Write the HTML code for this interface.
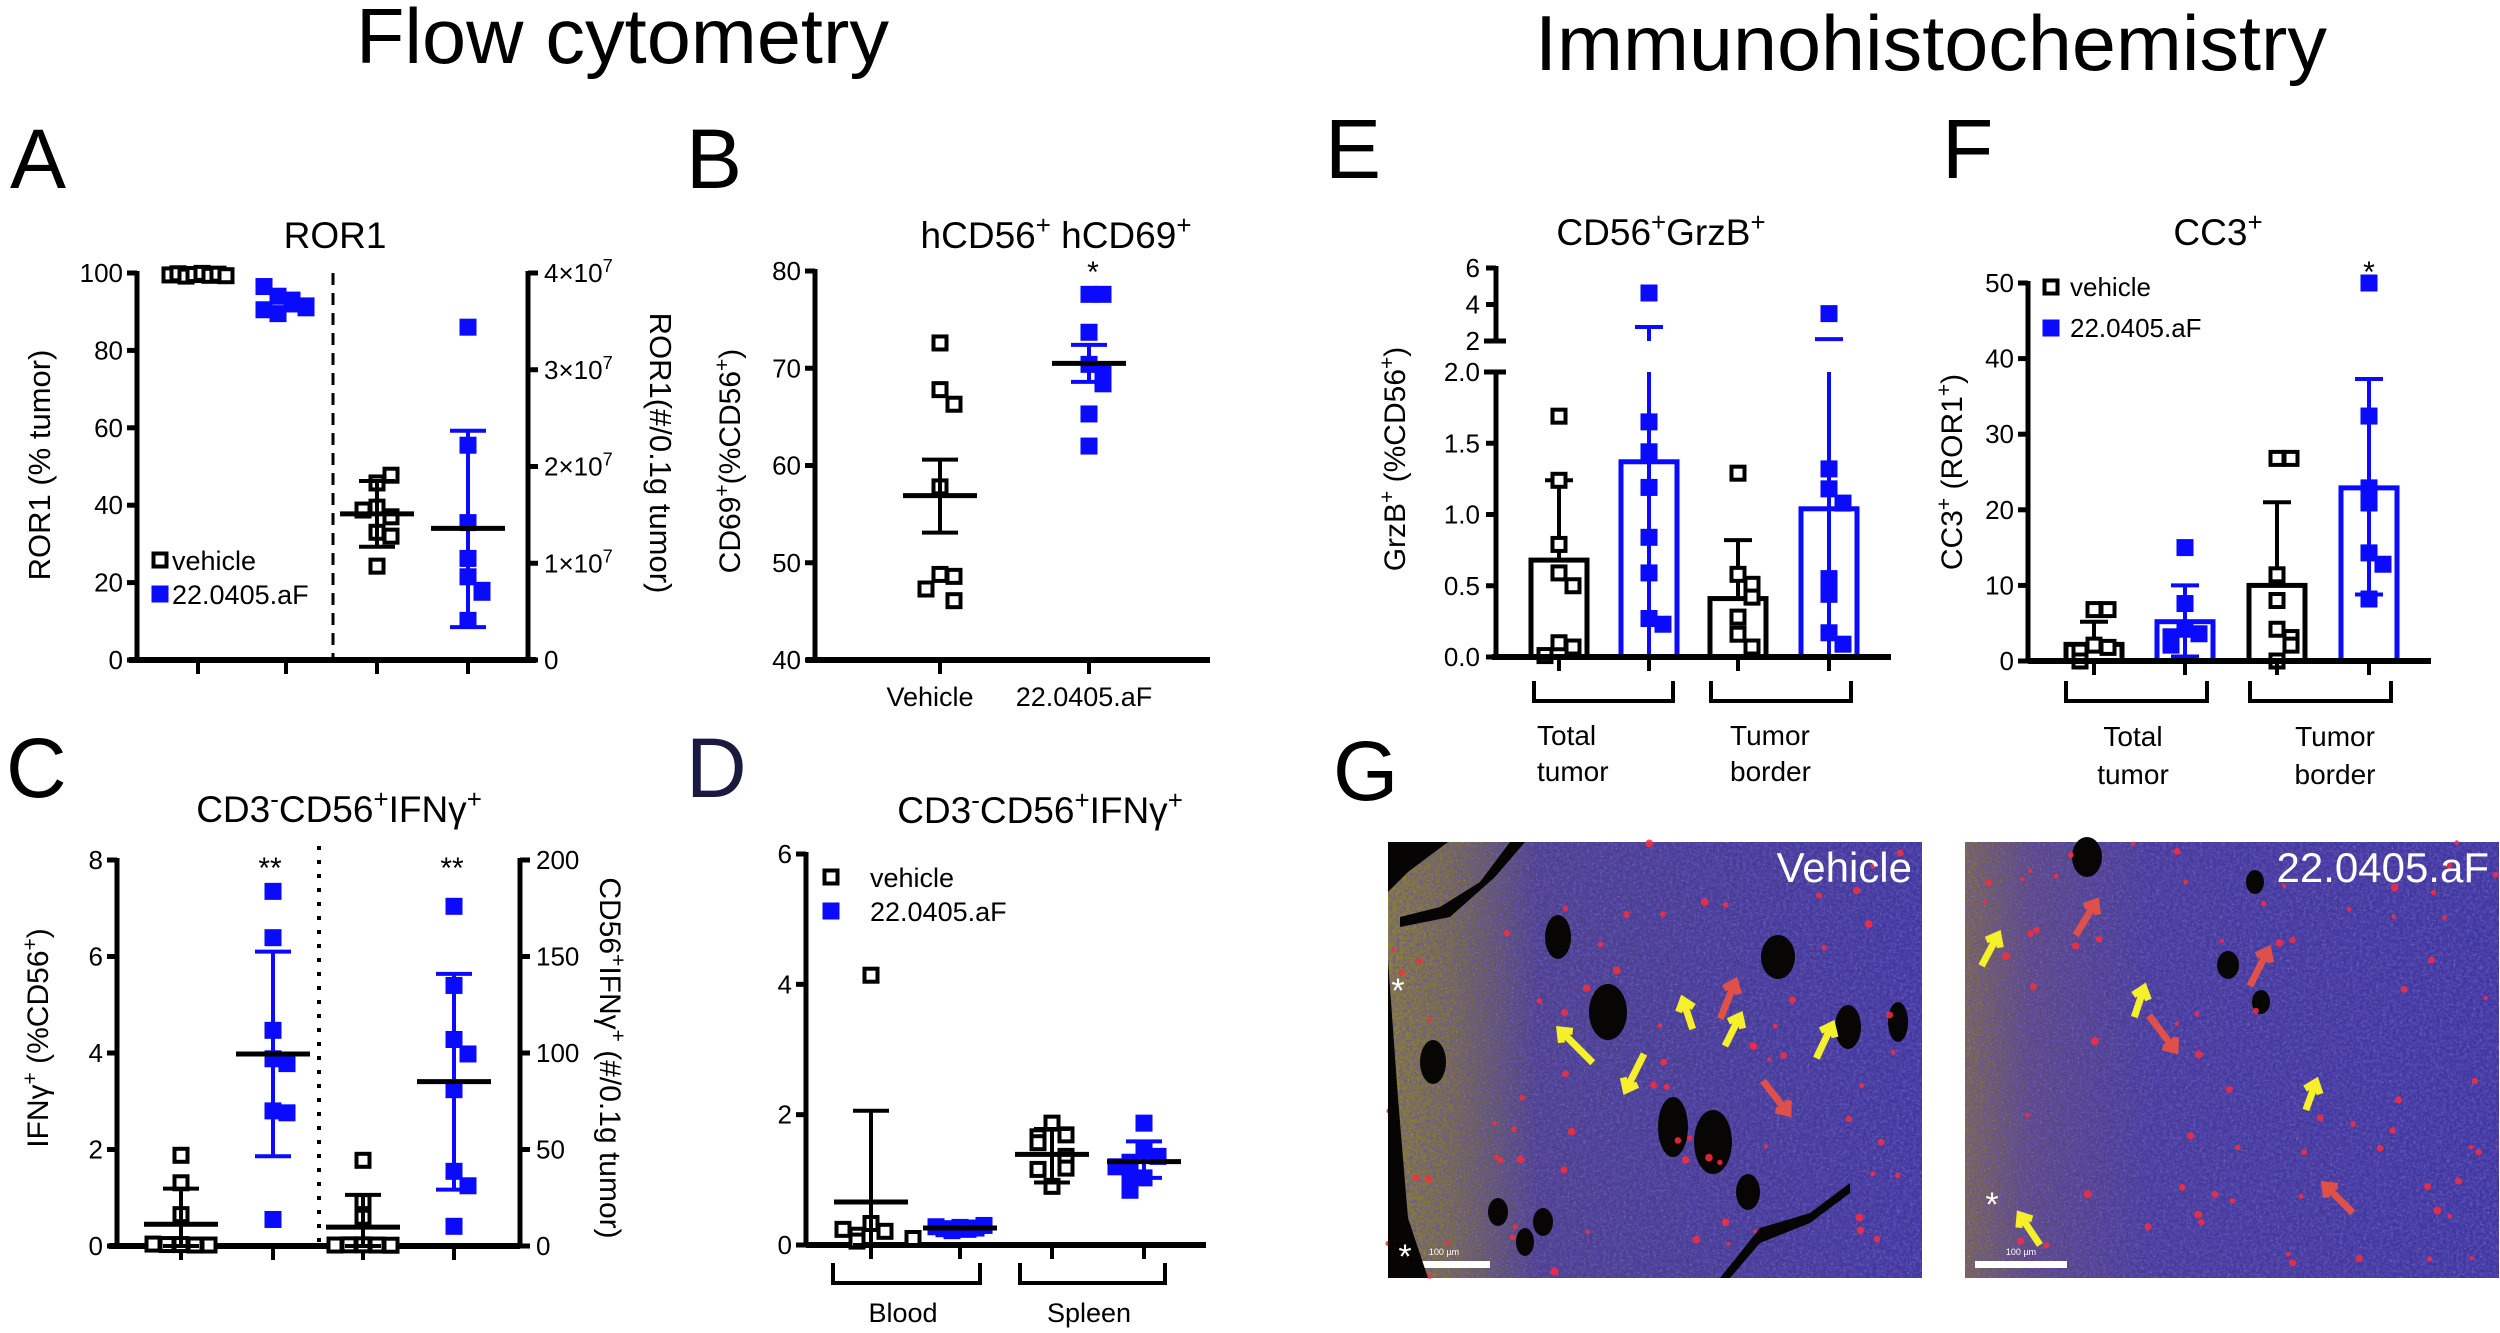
<!DOCTYPE html>
<html><head><meta charset="utf-8">
<style>
html,body{margin:0;padding:0;background:#fff;}
svg{display:block;font-family:"Liberation Sans",Arial,sans-serif;}
</style></head>
<body>
<svg id="fig" width="2500" height="1333" viewBox="0 0 2500 1333" xmlns="http://www.w3.org/2000/svg">
<defs>
<filter id="cells" x="0" y="0" width="100%" height="100%">
<feTurbulence type="fractalNoise" baseFrequency="0.3" numOctaves="2" seed="4" result="n"/>
<feColorMatrix type="matrix" values="0 0 0 0 0.12  0 0 0 0 0.08  0 0 0 0 0.5  0 0 0 2.2 -0.8" in="n"/>
</filter>
<filter id="speck" x="0" y="0" width="100%" height="100%">
<feTurbulence type="fractalNoise" baseFrequency="0.5" numOctaves="1" seed="9" result="n"/>
<feColorMatrix type="matrix" values="0 0 0 0 0.85  0 0 0 0 0.5  0 0 0 0 0.2  0 0 0 3 -1.75" in="n"/>
</filter>
<linearGradient id="gl" x1="0" x2="1" y1="0" y2="0">
<stop offset="0" stop-color="#8a8030"/><stop offset="0.12" stop-color="#7a6e42"/><stop offset="0.28" stop-color="#4d418c"/><stop offset="1" stop-color="#3f38a0"/>
</linearGradient>
<linearGradient id="gr" x1="0" x2="1" y1="0" y2="0">
<stop offset="0" stop-color="#7e6a48"/><stop offset="0.12" stop-color="#5e4a80"/><stop offset="0.35" stop-color="#463c9c"/><stop offset="1" stop-color="#3e37a2"/>
</linearGradient>
</defs>
<text x="356" y="63" font-size="78" textLength="533" lengthAdjust="spacingAndGlyphs">Flow cytometry</text>
<text x="1535" y="70" font-size="78" textLength="792" lengthAdjust="spacingAndGlyphs">Immunohistochemistry</text>
<g font-size="84">
<text x="10" y="188">A</text>
<text x="686" y="188">B</text>
<text x="6" y="797">C</text>
<text x="686" y="797" fill="#1a1a40">D</text>
<text x="1325" y="178">E</text>
<text x="1942" y="178">F</text>
<text x="1333" y="800">G</text>
</g>
<g id="charts"></g>
<g id="histo"></g>
</svg>
<script>
// ---------- DATA ----------
const aCats = ["vehicle %", "22.0405.aF %", "vehicle #", "22.0405.aF #"];
const aVehPct = [99.5, 99.8, 99.2, 99.6, 99.9, 99.4, 99.7, 99.3];
const aTrtPct = [96.5, 94, 92, 91.5, 90.5, 89.5, 93, 91];
const aVehCount = [1.83, 1.91, 1.58, 1.48, 1.32, 1.28, 0.97, 1.55];
const aVehCountMean = 1.51, aVehCountSD = [1.17, 1.85];
const aTrtCount = [3.44, 2.22, 1.42, 1.05, 0.86, 0.72, 0.70, 0.41];
const aTrtCountMean = 1.36, aTrtCountSD = [0.34, 2.37];
const aLeftTicks = [0, 20, 40, 60, 80, 100];
const aRightTicks = [0, 1, 2, 3, 4];
const bCats = ["Vehicle", "22.0405.aF"];
const bVeh = [72.6, 67.8, 66.3, 57.8, 48.8, 48.6, 47.3, 46.1];
const bVehMean = 56.9, bVehSEM = [53.1, 60.6];
const bTrt = [77.6, 77.6, 73.7, 70.4, 69.6, 68.4, 65.3, 62.0];
const bTrtMean = 70.5, bTrtSEM = [68.6, 72.4];
const bTicks = [40, 50, 60, 70, 80];
const cVehPct = [1.88, 1.31, 0.65, 0.03, 0.02, 0.03, 0.02, 0.04];
const cVehPctMean = 0.45, cVehPctSD = [0, 1.19];
const cTrtPct = [7.35, 6.39, 4.47, 3.88, 3.78, 2.80, 2.76, 0.55];
const cTrtPctMean = 3.98, cTrtPctSD = [1.86, 6.1];
const cVehCnt = [44.4, 23, 14.9, 0.6, 0.5, 0.6, 0.4, 0.5];
const cVehCntMean = 9.8, cVehCntSD = [0, 26.5];
const cTrtCnt = [176, 135, 107, 99.5, 81, 38.7, 31.2, 10.2];
const cTrtCntMean = 85.2, cTrtCntSD = [29.2, 141];
const cLeftTicks = [0, 2, 4, 6, 8];
const cRightTicks = [0, 50, 100, 150, 200];
const dVehBlood = [4.14, 0.33, 0.21, 0.15, 0.06, 0.24, 0.1];
const dVehBloodMean = 0.66, dVehBloodSD = [0, 2.06];
const dTrtBlood = [0.28, 0.25, 0.22, 0.27, 0.24, 0.26, 0.3];
const dTrtBloodMean = 0.26, dTrtBloodSD = [0.2, 0.32];
const dVehSpleen = [1.87, 1.69, 1.66, 1.57, 1.36, 1.18, 1.16, 0.9];
const dVehSpleenMean = 1.39, dVehSpleenSD = [0.96, 1.78];
const dTrtSpleen = [1.87, 1.45, 1.36, 1.27, 1.03, 1.05, 0.84, 1.2];
const dTrtSpleenMean = 1.28, dTrtSpleenSD = [1.03, 1.59];
const dTicks = [0, 2, 4, 6];
const eGroups = ["Total tumor", "Tumor border"];
const eVehMeans = [0.68, 0.41];
const eTrtMeans = [1.37, 1.04];
const eVehErr = [1.24, 0.82];
const eTrtErr = [2.77, 2.1];
const eVehPts = [[1.69, 1.24, 0.79, 0.59, 0.5, 0.1, 0.07, 0.01], [1.29, 0.58, 0.51, 0.42, 0.28, 0.16, 0.07]];
const eTrtPts = [[4.63, 1.65, 1.44, 1.19, 0.84, 0.59, 0.27, 0.23], [3.5, 1.32, 1.18, 1.08, 0.55, 0.44, 0.17, 0.09]];
const eLowTicks = ["0.0", "0.5", "1.0", "1.5", "2.0"];
const eHighTicks = [2, 4, 6];
const fVehMeans = [2.2, 10.0];
const fTrtMeans = [5.2, 22.9];
const fVehErr = [5.2, 21.0];
const fTrtErr = [10.0, 37.3];
const fTrtErrLow = [0.6, 8.8];
const fVehPts = [[6.8, 6.8, 2.1, 1.8, 1.3, 0], [26.8, 26.8, 11.4, 8, 4.2, 3.1, 2.1, 0]];
const fTrtPts = [[15, 7.6, 4.2, 3.6, 3.2, 2.1], [50, 32.4, 22.9, 20.9, 14.3, 12.8, 8.2]];
const fTicks = [0, 10, 20, 30, 40, 50];

// ---------- DRAW HELPERS ----------
const NS = "http://www.w3.org/2000/svg";
const root = document.getElementById("charts");
const BLUE = "#0a0aff";
function el(tag, attrs, parent, text) {
  const e = document.createElementNS(NS, tag);
  for (const k in attrs) e.setAttribute(k, attrs[k]);
  if (text !== undefined) e.textContent = text;
  (parent || root).appendChild(e);
  return e;
}
function lin(d0, d1, r0, r1) { return v => r0 + (v - d0) * (r1 - r0) / (d1 - d0); }
function line(g, x1, y1, x2, y2, col, w, name) {
  const l = el("line", {x1, y1, x2, y2, stroke: col || "#000", "stroke-width": w || 5}, g);
  
  
  return l;
}
function txt(g, x, y, s, size, anchor, name, extra) {
  const t = el("text", Object.assign({x, y, "font-size": size, "text-anchor": anchor || "middle"}, extra || {}), g, s);
  
  
  return t;
}
function marker(g, cx, cy, filled, name) {
  const s = 17;
  const r = el("rect", filled ?
    {x: cx - s / 2, y: cy - s / 2, width: s, height: s, fill: BLUE} :
    {x: cx - s / 2 + 2, y: cy - s / 2 + 2, width: s - 4, height: s - 4, fill: "#fff", stroke: "#000", "stroke-width": 4}, g);
  
  
  return r;
}
function scatter(g, cx, vals, ys, filled, name) {
  const placed = [];
  vals.forEach(v => {
    const y = ys(v);
    let n = placed.filter(p => Math.abs(p - y) < 15).length;
    const off = n === 0 ? 0 : (n % 2 ? 1 : -1) * Math.ceil(n / 2) * 14;
    placed.push(y);
    marker(g, cx + off, y, filled, name);
  });
}
function meanErr(g, cx, mean, lo, hi, ys, col, name) {
  const c = col || "#000";
  line(g, cx, ys(lo), cx, ys(hi), c, 4, name + '-error-bar');
  line(g, cx - 18, ys(hi), cx + 18, ys(hi), c, 4, name + '-error-cap');
  line(g, cx - 18, ys(lo), cx + 18, ys(lo), c, 4, name + '-error-cap');
  line(g, cx - 37, ys(mean), cx + 37, ys(mean), "#000", 5, name + '-mean-line');
}
function yAxis(g, x, ys, ticks, labels, side, size) {
  const y0 = ys(ticks[0]), y1 = ys(ticks[ticks.length - 1]);
  line(g, x, Math.max(y0, y1) + 2, x, Math.min(y0, y1) - 2, "#000", 5, 'y-axis-line');
  ticks.forEach((t, i) => {
    const y = ys(t);
    if (side === "left") {
      line(g, x - 10, y, x, y, "#000", 5, 'y-tick');
      txt(g, x - 14, y + 9, labels ? labels[i] : String(t), size || 26, "end", 'y-tick-label');
    } else {
      line(g, x, y, x + 10, y, "#000", 5, 'y-tick');
    }
  });
}
function xTicks(g, xs, y) { xs.forEach(x => line(g, x, y, x, y + 14, "#000", 4, 'x-tick')); }
function bracket(g, x1, x2, y, name) {
  const p = el("path", {d: `M${x1} ${y} V${y + 20} H${x2} V${y}`, fill: "none", stroke: "#000", "stroke-width": 4}, g);
  
  
}
function sup(t, base, s, tail) {
  t.appendChild(document.createTextNode(base));
  const ts = document.createElementNS(NS, "tspan");
  ts.setAttribute("baseline-shift", "super"); ts.setAttribute("font-size", "70%");
  ts.textContent = s; t.appendChild(ts);
  if (tail) t.appendChild(document.createTextNode(tail));
  return ts;
}
function grp(name) {
  const g = el("g", {});
  
  
  return g;
}

// ---------- PANEL A ----------
(function () {
  const g = grp('panel-a-ror1');
  const yl = lin(0, 100, 660, 273), yr = lin(0, 4, 660, 273);
  const cx = [198, 286, 377, 468];
  txt(g, 335, 248, "ROR1", 37, "middle", 'panel-a-title');
  yAxis(g, 137, yl, aLeftTicks, null, "left");
  yAxis(g, 528, yr, aRightTicks, null, "right");
  aRightTicks.forEach(t => {
    const lab = txt(g, 544, yr(t) + 9, "", 26, "start", 'right-tick-label');
    if (t === 0) lab.textContent = "0"; else sup(lab, t + "×10", "7");
  });
  line(g, 129, 660, 536, 660, "#000", 6, 'x-axis-line');
  xTicks(g, cx, 660);
  const d = line(g, 333, 273, 333, 660, "#000", 3, 'dashed-separator'); d.setAttribute("stroke-dasharray", "12 8");
  aVehPct.forEach((v, i) => marker(g, cx[0] - 28 + i * 8, yl(v), false, 'vehicle-pct-point'));
  aTrtPct.forEach((v, i) => marker(g, cx[1] - 22 + (i % 4) * 14, yl(v), true, 'treated-pct-point'));
  scatter(g, cx[2], aVehCount, yr, false, 'vehicle-count-point');
  meanErr(g, cx[2], aVehCountMean, aVehCountSD[0], aVehCountSD[1], yr, "#000", 'vehicle-count');
  scatter(g, cx[3], aTrtCount, yr, true, 'treated-count-point');
  meanErr(g, cx[3], aTrtCountMean, aTrtCountSD[0], aTrtCountSD[1], yr, BLUE, 'treated-count');
  txt(g, 50, 465, "ROR1 (% tumor)", 31, "middle", 'y-axis-title-left', {transform: "rotate(-90 50 465)"});
  txt(g, 650, 453, "ROR1(#/0.1g tumor)", 31, "middle", 'y-axis-title-right', {transform: "rotate(90 650 453)"});
  marker(g, 160, 560, false, 'legend-vehicle-swatch');
  txt(g, 172, 570, "vehicle", 27, "start", 'legend-vehicle-label');
  marker(g, 160, 594, true, 'legend-treated-swatch');
  txt(g, 172, 604, "22.0405.aF", 27, "start", 'legend-treated-label');
})();

// ---------- PANEL B ----------
(function () {
  const g = grp('panel-b-cd69');
  const ys = lin(40, 80, 660, 271);
  const cx = [940, 1089];
  const t = txt(g, 1056, 248, "", 37, "middle", 'panel-b-title');
  sup(t, "hCD56", "+"); sup(t, " hCD69", "+");
  txt(g, 1093, 282, "*", 30, "middle", 'significance-star');
  yAxis(g, 815, ys, bTicks, null, "left");
  line(g, 806, 660, 1210, 660, "#000", 6, 'x-axis-line');
  xTicks(g, cx, 660);
  scatter(g, cx[0], bVeh, ys, false, 'vehicle-point');
  meanErr(g, cx[0], bVehMean, bVehSEM[0], bVehSEM[1], ys, "#000", 'vehicle');
  scatter(g, cx[1], bTrt, ys, true, 'treated-point');
  meanErr(g, cx[1], bTrtMean, bTrtSEM[0], bTrtSEM[1], ys, BLUE, 'treated');
  txt(g, cx[0] - 10, 706, bCats[0], 27, "middle", 'x-category-label');
  txt(g, cx[1] - 5, 706, bCats[1], 27, "middle", 'x-category-label');
  const yl = txt(g, 740, 461, "", 30, "middle", 'y-axis-title', {transform: "rotate(-90 740 461)"});
  sup(yl, "CD69", "+"); sup(yl, "(%CD56", "+", ")");
})();

// ---------- PANEL C ----------
(function () {
  const g = grp('panel-c-ifng');
  const yl = lin(0, 8, 1246, 860), yr = lin(0, 200, 1246, 860);
  const cx = [181, 273, 363, 454];
  const t = txt(g, 339, 822, "", 37, "middle", 'panel-c-title');
  sup(t, "CD3", "-"); sup(t, "CD56", "+"); sup(t, "IFNγ", "+");
  yAxis(g, 117, yl, cLeftTicks, null, "left");
  yAxis(g, 520, yr, cRightTicks, null, "right");
  cRightTicks.forEach(v => txt(g, 536, yr(v) + 9, String(v), 26, "start", 'right-tick-label'));
  line(g, 109, 1246, 520, 1246, "#000", 6, 'x-axis-line');
  xTicks(g, cx, 1246);
  const d = line(g, 319, 846, 319, 1246, "#000", 4, 'dotted-separator'); d.setAttribute("stroke-dasharray", "4 10");
  scatter(g, cx[0], cVehPct, yl, false, 'vehicle-pct-point');
  meanErr(g, cx[0], cVehPctMean, cVehPctSD[0], cVehPctSD[1], yl, "#000", 'vehicle-pct');
  scatter(g, cx[1], cTrtPct, yl, true, 'treated-pct-point');
  meanErr(g, cx[1], cTrtPctMean, cTrtPctSD[0], cTrtPctSD[1], yl, BLUE, 'treated-pct');
  scatter(g, cx[2], cVehCnt, yr, false, 'vehicle-count-point');
  meanErr(g, cx[2], cVehCntMean, cVehCntSD[0], cVehCntSD[1], yr, "#000", 'vehicle-count');
  scatter(g, cx[3], cTrtCnt, yr, true, 'treated-count-point');
  meanErr(g, cx[3], cTrtCntMean, cTrtCntSD[0], cTrtCntSD[1], yr, BLUE, 'treated-count');
  txt(g, 270, 878, "**", 30, "middle", 'significance-stars');
  txt(g, 452, 878, "**", 30, "middle", 'significance-stars');
  const l1 = txt(g, 48, 1038, "", 30, "middle", 'y-axis-title-left', {transform: "rotate(-90 48 1038)"});
  sup(l1, "IFNγ", "+"); sup(l1, " (%CD56", "+", ")");
  const l2 = txt(g, 600, 1058, "", 30, "middle", 'y-axis-title-right', {transform: "rotate(90 600 1058)"});
  sup(l2, "CD56", "+"); sup(l2, "IFNγ", "+", " (#/0.1g tumor)");
})();

// ---------- PANEL D ----------
(function () {
  const g = grp('panel-d-blood-spleen');
  const ys = lin(0, 6, 1245, 854);
  const cx = [871, 960, 1052, 1144];
  const t = txt(g, 1040, 823, "", 37, "middle", 'panel-d-title');
  sup(t, "CD3", "-"); sup(t, "CD56", "+"); sup(t, "IFNγ", "+");
  yAxis(g, 806, ys, dTicks, null, "left");
  line(g, 806, 1245, 1206, 1245, "#000", 6, 'x-axis-line');
  xTicks(g, cx, 1245);
  scatter(g, cx[0], dVehBlood, ys, false, 'vehicle-blood-point');
  meanErr(g, cx[0], dVehBloodMean, dVehBloodSD[0], dVehBloodSD[1], ys, "#000", 'vehicle-blood');
  dTrtBlood.forEach((v, i) => marker(g, cx[1] - 24 + i * 8, ys(v), true, 'treated-blood-point'));
  meanErr(g, cx[1], dTrtBloodMean, dTrtBloodSD[0], dTrtBloodSD[1], ys, BLUE, 'treated-blood');
  scatter(g, cx[2], dVehSpleen, ys, false, 'vehicle-spleen-point');
  meanErr(g, cx[2], dVehSpleenMean, dVehSpleenSD[0], dVehSpleenSD[1], ys, "#000", 'vehicle-spleen');
  scatter(g, cx[3], dTrtSpleen, ys, true, 'treated-spleen-point');
  meanErr(g, cx[3], dTrtSpleenMean, dTrtSpleenSD[0], dTrtSpleenSD[1], ys, BLUE, 'treated-spleen');
  bracket(g, 833, 980, 1263, 'blood-bracket');
  bracket(g, 1020, 1165, 1263, 'spleen-bracket');
  txt(g, 903, 1322, "Blood", 27, "middle", 'group-label-blood');
  txt(g, 1089, 1322, "Spleen", 27, "middle", 'group-label-spleen');
  marker(g, 831, 877, false, 'legend-vehicle-swatch');
  txt(g, 870, 887, "vehicle", 27, "start", 'legend-vehicle-label');
  marker(g, 831, 911, true, 'legend-treated-swatch');
  txt(g, 870, 921, "22.0405.aF", 27, "start", 'legend-treated-label');
})();

// ---------- PANEL E ----------
(function () {
  const g = grp('panel-e-grzb');
  const yLow = lin(0, 2, 657, 372), yHigh = lin(2, 6, 341, 268);
  const ys = v => v <= 2 ? yLow(v) : yHigh(v);
  const cx = [1559, 1649, 1738, 1829];
  const t = txt(g, 1661, 245, "", 37, "middle", 'panel-e-title');
  sup(t, "CD56", "+"); sup(t, "GrzB", "+");
  line(g, 1496, 659, 1496, 370, "#000", 5, 'y-axis-lower');
  line(g, 1496, 343, 1496, 266, "#000", 5, 'y-axis-upper');
  line(g, 1484, 372, 1506, 372, "#000", 5, 'axis-break-cap');
  line(g, 1484, 341, 1506, 341, "#000", 5, 'axis-break-cap');
  eLowTicks.forEach(s => { const v = parseFloat(s); line(g, 1486, yLow(v), 1496, yLow(v), "#000", 5, 'y-tick'); txt(g, 1480, yLow(v) + 9, s, 26, "end", 'y-tick-label'); });
  eHighTicks.forEach(v => { line(g, 1486, yHigh(v), 1496, yHigh(v), "#000", 5, 'y-tick'); txt(g, 1480, yHigh(v) + 9, String(v), 26, "end", 'y-tick-label'); });
  [0, 1].forEach(i => {
    const xv = cx[i * 2], xt = cx[i * 2 + 1];
    const b1 = el("rect", {x: xv - 28, y: ys(eVehMeans[i]), width: 56, height: 657 - ys(eVehMeans[i]), fill: "#fff", stroke: "#000", "stroke-width": 5}, g);
     
    line(g, xv, ys(eVehMeans[i]), xv, ys(eVehErr[i]), "#000", 4, 'vehicle-error-bar');
    line(g, xv - 14, ys(eVehErr[i]), xv + 14, ys(eVehErr[i]), "#000", 4, 'vehicle-error-cap');
    const b2 = el("rect", {x: xt - 28, y: ys(eTrtMeans[i]), width: 56, height: 657 - ys(eTrtMeans[i]), fill: "#fff", stroke: BLUE, "stroke-width": 5}, g);
     
    line(g, xt, 657, xt, 372, BLUE, 4, 'treated-error-bar');
    line(g, xt, 341, xt, ys(eTrtErr[i]), BLUE, 4, 'treated-error-bar');
    line(g, xt - 14, ys(eTrtErr[i]), xt + 14, ys(eTrtErr[i]), BLUE, 4, 'treated-error-cap');
    scatter(g, xv, eVehPts[i], ys, false, 'vehicle-point');
    scatter(g, xt, eTrtPts[i], ys, true, 'treated-point');
  });
  line(g, 1492, 657, 1891, 657, "#000", 6, 'x-axis-line');
  xTicks(g, cx, 657);
  bracket(g, 1534, 1673, 681, 'total-tumor-bracket');
  bracket(g, 1711, 1851, 681, 'tumor-border-bracket');
  txt(g, 1537, 745, "Total", 28, "start", 'group-label');
  txt(g, 1537, 781, "tumor", 28, "start", 'group-label');
  txt(g, 1730, 745, "Tumor", 28, "start", 'group-label');
  txt(g, 1730, 781, "border", 28, "start", 'group-label');
  const yl = txt(g, 1405, 459, "", 30, "middle", 'y-axis-title', {transform: "rotate(-90 1405 459)"});
  sup(yl, "GrzB", "+"); sup(yl, " (%CD56", "+", ")");
})();

// ---------- PANEL F ----------
(function () {
  const g = grp('panel-f-cc3');
  const ys = lin(0, 50, 661, 283);
  const cx = [2094, 2185, 2277, 2369];
  const t = txt(g, 2218, 245, "", 37, "middle", 'panel-f-title');
  sup(t, "CC3", "+");
  yAxis(g, 2028, ys, fTicks, null, "left");
  [0, 1].forEach(i => {
    const xv = cx[i * 2], xt = cx[i * 2 + 1];
    const b1 = el("rect", {x: xv - 28, y: ys(fVehMeans[i]), width: 56, height: 661 - ys(fVehMeans[i]), fill: "#fff", stroke: "#000", "stroke-width": 5}, g);
     
    line(g, xv, ys(fVehMeans[i]), xv, ys(fVehErr[i]), "#000", 4, 'vehicle-error-bar');
    line(g, xv - 14, ys(fVehErr[i]), xv + 14, ys(fVehErr[i]), "#000", 4, 'vehicle-error-cap');
    const b2 = el("rect", {x: xt - 28, y: ys(fTrtMeans[i]), width: 56, height: 661 - ys(fTrtMeans[i]), fill: "#fff", stroke: BLUE, "stroke-width": 5}, g);
     
    line(g, xt, ys(fTrtErrLow[i]), xt, ys(fTrtErr[i]), BLUE, 4, 'treated-error-bar');
    line(g, xt - 14, ys(fTrtErr[i]), xt + 14, ys(fTrtErr[i]), BLUE, 4, 'treated-error-cap');
    line(g, xt - 14, ys(fTrtErrLow[i]), xt + 14, ys(fTrtErrLow[i]), BLUE, 4, 'treated-error-cap');
    scatter(g, xv, fVehPts[i], ys, false, 'vehicle-point');
    scatter(g, xt, fTrtPts[i], ys, true, 'treated-point');
  });
  line(g, 2028, 661, 2431, 661, "#000", 6, 'x-axis-line');
  xTicks(g, cx, 661);
  txt(g, 2369, 282, "*", 30, "middle", 'significance-star');
  bracket(g, 2066, 2207, 681, 'total-tumor-bracket');
  bracket(g, 2250, 2391, 681, 'tumor-border-bracket');
  txt(g, 2133, 746, "Total", 28, "middle", 'group-label');
  txt(g, 2133, 784, "tumor", 28, "middle", 'group-label');
  txt(g, 2335, 746, "Tumor", 28, "middle", 'group-label');
  txt(g, 2335, 784, "border", 28, "middle", 'group-label');
  const yl = txt(g, 1962, 472, "", 30, "middle", 'y-axis-title', {transform: "rotate(-90 1962 472)"});
  sup(yl, "CC3", "+"); sup(yl, " (ROR1", "+", ")");
  marker(g, 2051, 287, false, 'legend-vehicle-swatch');
  txt(g, 2070, 296, "vehicle", 26, "start", 'legend-vehicle-label');
  marker(g, 2051, 328, true, 'legend-treated-swatch');
  txt(g, 2070, 337, "22.0405.aF", 26, "start", 'legend-treated-label');
})();

// ---------- PANEL G (micrographs, decorative) ----------
(function () {
  const H = document.getElementById("histo");
  let seed = 7;
  const rnd = () => { seed = (seed * 16807) % 2147483647; return seed / 2147483647; };
  function image(x0, label, grad, blobs, name) {
    const g = el("g", {}, H);
    
    
    const w = 534, h = 436, y0 = 842;
    el("rect", {x: x0, y: y0, width: w, height: h, fill: `url(#${grad})`}, g);
    el("rect", {x: x0, y: y0, width: w, height: h, filter: "url(#cells)", opacity: 0.8}, g);
    el("rect", {x: x0, y: y0, width: w, height: h, filter: "url(#speck)", opacity: 0.35}, g);
    blobs.forEach(b => el("ellipse", {cx: x0 + b[0], cy: y0 + b[1], rx: b[2], ry: b[3], fill: "#080604"}, g));
    for (let i = 0; i < 70; i++) el("circle", {cx: x0 + rnd() * w, cy: y0 + rnd() * h, r: 2 + rnd() * 2, fill: "#ff2a3a", opacity: 0.85}, g);
    el("rect", {x: x0 + 10, y: y0 + 419, width: 92, height: 7, fill: "#fff"}, g);
    txt(g, x0 + 56, y0 + 413, "100 µm", 9, "middle", 'scale-bar-label', {fill: "#fff"});
    txt(g, x0 + w - 10, y0 + 40, label, 42, "end", 'image-label', {fill: "#fff"});
    return g;
  }
  const gl = image(1388, "Vehicle", "gl", [[170, 95, 13, 22], [220, 170, 19, 28], [390, 115, 17, 22], [460, 185, 13, 22], [510, 180, 10, 20], [45, 220, 13, 22], [285, 285, 15, 30], [325, 300, 19, 32], [360, 350, 12, 18], [110, 370, 10, 14], [155, 380, 10, 14], [137, 400, 9, 14]], 'vehicle-micrograph');
  el("path", {d: "M1388 842 h60 l-40 30 l-20 20 z M1388 960 v318 h40 l-20 -60 l-10 -120 z M1510 842 l-30 40 l-40 25 l-40 10 v10 l50 -10 l45 -40 l30 -35 z M1720 1278 l40 -50 l50 -15 l40 -30 v10 l-40 30 l-50 20 l-30 35 z", fill: "#060503"}, gl);
  const gr = image(1965, "22.0405.aF", "gr", [[122, 15, 15, 20], [290, 40, 9, 12], [263, 123, 11, 14], [296, 160, 9, 12]], 'treated-micrograph');
  const arrows = [[1580, 1050, 1560, 1030, "#f5f02a"], [1636, 1070, 1626, 1090, "#f5f02a"], [1687, 1012, 1683, 1000, "#f5f02a"], [1733, 1030, 1740, 1016, "#f5f02a"], [1824, 1042, 1832, 1025, "#f5f02a"], [1727, 1002, 1735, 982, "#e0504a"], [1774, 1095, 1788, 1113, "#e0504a"], [1990, 950, 1998, 935, "#f5f02a"], [2140, 1000, 2144, 988, "#f5f02a"], [2312, 1093, 2316, 1082, "#f5f02a"], [2085, 920, 2096, 902, "#e0504a"], [2258, 970, 2268, 950, "#e0504a"], [2160, 1030, 2175, 1050, "#e0504a"], [2340, 1200, 2325, 1185, "#e0504a"], [2030, 1230, 2020, 1215, "#f5f02a"]];
  arrows.forEach(a => {
    const dx = a[2] - a[0], dy = a[3] - a[1], L = Math.hypot(dx, dy), ux = dx / L, uy = dy / L;
    const p = el("path", {d: `M${a[0] - ux * 18} ${a[1] - uy * 18} L${a[2]} ${a[3]} M${a[2] - ux * 10 - uy * 8} ${a[3] - uy * 10 + ux * 8} L${a[2]} ${a[3]} L${a[2] - ux * 10 + uy * 8} ${a[3] - uy * 10 - ux * 8}`, stroke: a[4], "stroke-width": 7, fill: "none"}, H);
    
    
  });
  txt(H, 1398, 1002, "*", 34, "middle", 'asterisk-marker', {fill: "#fff"});
  txt(H, 1405, 1268, "*", 34, "middle", 'asterisk-marker', {fill: "#fff"});
  txt(H, 1992, 1216, "*", 34, "middle", 'asterisk-marker', {fill: "#fff"});
})();
</script>
</body></html>
